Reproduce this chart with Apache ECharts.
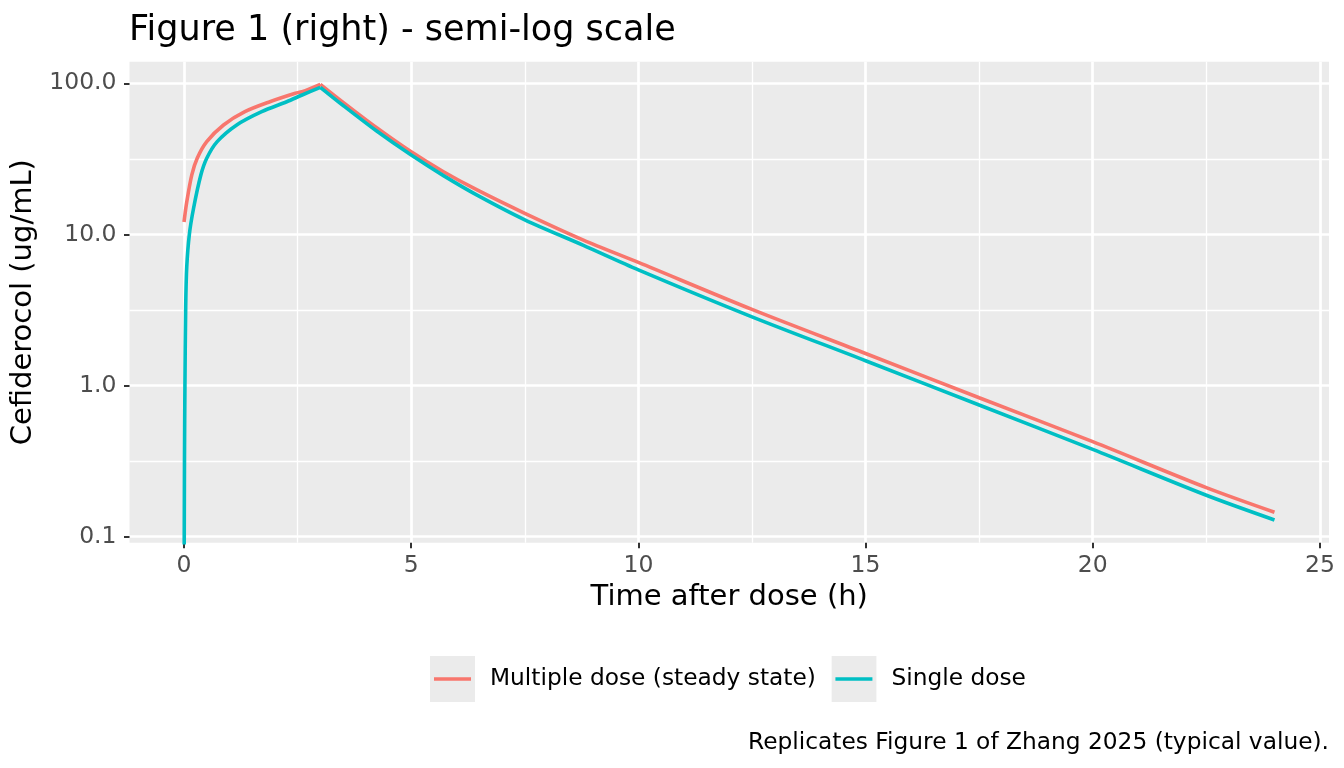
<!DOCTYPE html>
<html>
<head>
<meta charset="utf-8">
<script src="https://cdn.jsdelivr.net/npm/echarts@6/dist/echarts.min.js"></script>
<style>
  html, body { margin: 0; padding: 0; background: #fff; }
  #chart { width: 1344px; height: 768px; }
</style>
</head>
<body>
<div id="chart"></div>
<script>
// values (time in h, concentration in ug/mL)
var multiTime = [0, 0.06, 0.17, 0.29, 0.5, 0.87, 1.34, 1.89, 2.45, 2.6, 3.0, 3.51, 4.24, 5.0, 5.71, 6.45, 7.5, 8.79, 10, 12.5, 15, 17.5, 20, 22.5, 24];
var multiConc = [12.1, 16.4, 24.7, 31.9, 41.1, 53.0, 64.9, 75.5, 85.9, 88.0, 98.5, 74.5, 50.8, 35.2, 26.0, 19.7, 13.8, 9.18, 6.53, 3.19, 1.63, 0.830, 0.425, 0.211, 0.145];

var singleTime = [0.003, 0.01, 0.02, 0.037, 0.06, 0.117, 0.21, 0.37, 0.5, 0.73, 1.16, 1.71, 2.26, 2.6, 3.0, 3.51, 4.24, 5.0, 5.71, 6.45, 7.5, 8.79, 10, 12.5, 15, 17.5, 20, 22.5, 24];
var singleConc = [0.06, 0.316, 1.0, 3.33, 6.1, 10.0, 14.9, 24.7, 31.9, 41.1, 53.0, 64.9, 75.5, 83.7, 94.1, 71.0, 48.3, 33.5, 24.5, 18.2, 12.5, 8.47, 5.83, 2.85, 1.46, 0.743, 0.378, 0.188, 0.129];

var seriesNames = ['Multiple dose (steady state)', 'Single dose'];
var seriesColors = ['#F8766D', '#00BFC4'];

var xTicks = [0, 5, 10, 15, 20, 25];
var xMinor = [2.5, 7.5, 12.5, 17.5, 22.5];
var yTickExp = [-1, 0, 1, 2];       // 0.1, 1, 10, 100
var yMinorExp = [-0.5, 0.5, 1.5];

var FONT = 'DejaVu Sans';

function toLog(times, conc) {
    return times.map(function (t, i) { return [t, Math.log10(conc[i])]; });
}

// infusion and decline are drawn as two pieces so the peak stays sharp
function pieces(times, conc) {
    var pts = toLog(times, conc);
    var peak = conc.indexOf(Math.max.apply(null, conc));
    return [pts.slice(0, peak + 1), pts.slice(peak)];
}

// legend key: grey box with a coloured line, like ggplot
function keyIcon(color) {
    var svg = '<svg xmlns="http://www.w3.org/2000/svg" width="55" height="46" viewBox="0 0 55 46">' +
        '<rect x="0" y="0" width="45" height="46" fill="#EBEBEB"/>' +
        '<line x1="4" y1="23" x2="41" y2="23" stroke="' + color + '" stroke-width="3.5"/></svg>';
    return 'image://data:image/svg+xml;charset=utf-8,' + encodeURIComponent(svg);
}

function lineSeries(idx, data, z) {
    return {
        name: seriesNames[idx], type: 'line', xAxisIndex: 0, yAxisIndex: 0,
        data: data,
        showSymbol: false, symbol: 'none', smooth: 0.3, z: z,
        lineStyle: { color: seriesColors[idx], width: 3.6 },
        itemStyle: { color: seriesColors[idx] }
    };
}

var multiPieces = pieces(multiTime, multiConc);
var singlePieces = pieces(singleTime, singleConc);

var myChart = echarts.init(document.getElementById('chart'));

var option = {
    animation: false,
    backgroundColor: '#fff',
    title: [
        {
            text: 'Figure 1 (right) - semi-log scale',
            left: 129, top: 13, padding: 0,
            textStyle: { fontFamily: FONT, fontSize: 35, fontWeight: 'normal', color: '#000' }
        },
        {
            text: 'Replicates Figure 1 of Zhang 2025 (typical value).',
            right: 15, top: 731.5, padding: 0,
            textStyle: { fontFamily: FONT, fontSize: 23.3, fontWeight: 'normal', color: '#000' }
        }
    ],
    legend: {
        left: 430, top: 656, padding: 0,
        itemWidth: 55, itemHeight: 46, itemGap: 15.5,
        selectedMode: false,
        textStyle: { fontFamily: FONT, fontSize: 23.3, color: '#000' },
        data: [
            { name: seriesNames[0], icon: keyIcon(seriesColors[0]) },
            { name: seriesNames[1], icon: keyIcon(seriesColors[1]) }
        ]
    },
    grid: {
        left: 129.5, right: 15, top: 61.7, bottom: 225.3,
        show: true, backgroundColor: '#EBEBEB', borderWidth: 0
    },
    xAxis: [
        {
            type: 'value', min: -1.2, max: 25.2,
            name: 'Time after dose (h)', nameLocation: 'middle', nameGap: 40,
            nameTextStyle: { fontFamily: FONT, fontSize: 29, color: '#000' },
            axisLine: { show: false, onZero: false },
            axisTick: { show: true, length: 5.5, customValues: xTicks, lineStyle: { color: '#333333', width: 2 } },
            axisLabel: { customValues: xTicks, margin: 11, fontFamily: FONT, fontSize: 23.5, color: '#4D4D4D' },
            splitLine: { show: true, lineStyle: { color: '#FFFFFF', width: 2.7 } }
        },
        {
            type: 'value', min: -1.2, max: 25.2, position: 'bottom',
            axisLine: { show: false, onZero: false },
            axisTick: { show: false, customValues: xMinor },
            axisLabel: { show: false },
            splitLine: { show: true, lineStyle: { color: '#FFFFFF', width: 1.3 } }
        }
    ],
    yAxis: [
        {
            type: 'value', min: -1.04, max: 2.143,
            name: 'Cefiderocol (ug/mL)', nameLocation: 'middle', nameGap: 79,
            nameTextStyle: { fontFamily: FONT, fontSize: 29, color: '#000' },
            axisLine: { show: false, onZero: false },
            axisTick: { show: true, length: 5.5, customValues: yTickExp, lineStyle: { color: '#333333', width: 2 } },
            axisLabel: {
                customValues: yTickExp, margin: 13, fontFamily: FONT, fontSize: 23.5, color: '#4D4D4D',
                formatter: function (v) { return Math.pow(10, v).toFixed(1); }
            },
            splitLine: { show: true, lineStyle: { color: '#FFFFFF', width: 2.7 } }
        },
        {
            type: 'value', min: -1.04, max: 2.143, position: 'left',
            axisLine: { show: false, onZero: false },
            axisTick: { show: false, customValues: yMinorExp },
            axisLabel: { show: false },
            splitLine: { show: true, lineStyle: { color: '#FFFFFF', width: 1.3 } }
        }
    ],
    series: [
        lineSeries(0, multiPieces[0], 3),
        lineSeries(0, multiPieces[1], 3),
        lineSeries(1, singlePieces[0], 4),
        lineSeries(1, singlePieces[1], 4)
    ]
};

myChart.setOption(option);
</script>
</body>
</html>
